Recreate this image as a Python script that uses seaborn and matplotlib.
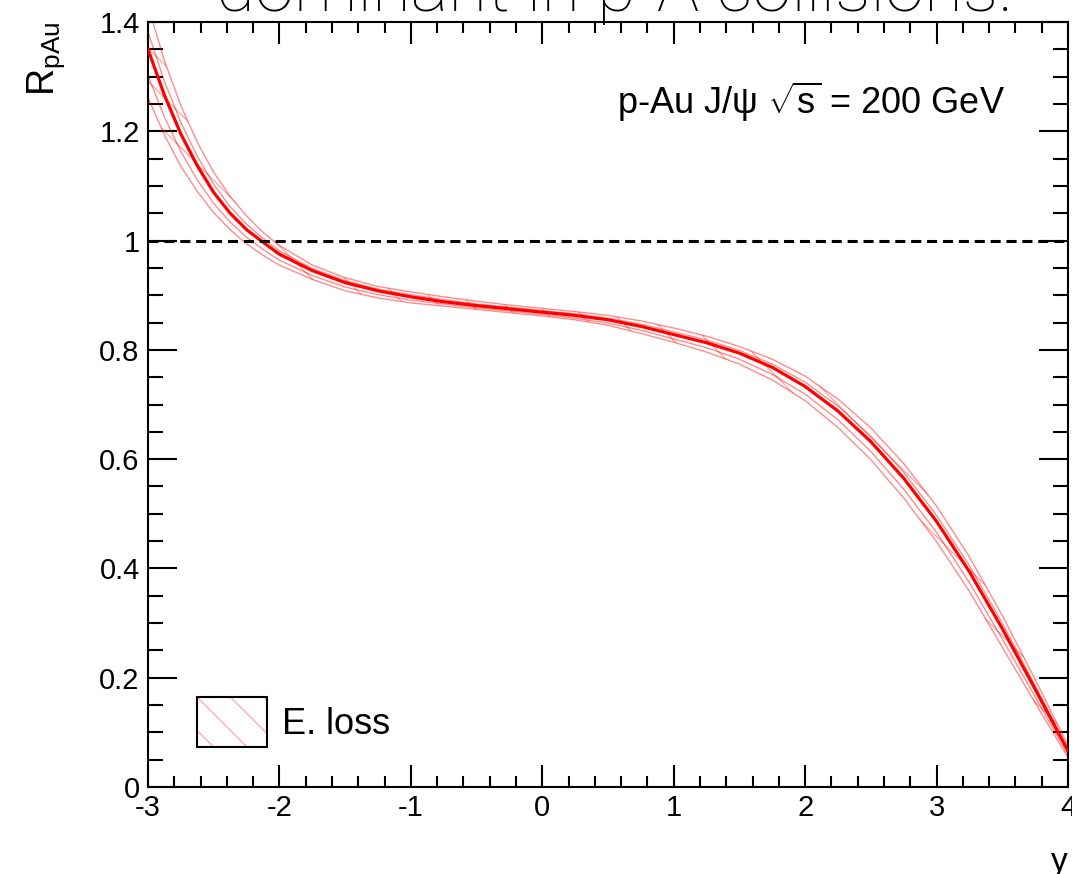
import matplotlib
matplotlib.use("Agg")
import matplotlib.pyplot as plt
import seaborn as sns
import pandas as pd
from matplotlib.ticker import MultipleLocator, FuncFormatter
from matplotlib.patches import Patch
from matplotlib.legend_handler import HandlerTuple

# ---------------- data ----------------
rapidity = [-3.000, -2.875, -2.750, -2.625, -2.500, -2.375, -2.250, -2.125, -2.000,
            -1.75, -1.50, -1.25, -1.00, -0.75, -0.50, -0.25, 0.00, 0.25, 0.50, 0.75,
            1.00, 1.25, 1.50, 1.75, 2.00, 2.25, 2.50, 2.75, 3.00, 3.25, 3.50, 3.75, 4.00]

r_central = [1.350, 1.266, 1.195, 1.137, 1.088, 1.050, 1.020, 0.997, 0.975,
             0.945, 0.923, 0.908, 0.897, 0.888, 0.881, 0.875, 0.869, 0.863, 0.855, 0.843,
             0.828, 0.813, 0.794, 0.768, 0.733, 0.688, 0.632, 0.565, 0.486, 0.394, 0.290, 0.179, 0.066]

r_upper = [1.430, 1.329, 1.247, 1.180, 1.125, 1.081, 1.045, 1.015, 0.991,
           0.955, 0.932, 0.916, 0.906, 0.897, 0.889, 0.882, 0.876, 0.870, 0.863, 0.853,
           0.840, 0.825, 0.806, 0.783, 0.752, 0.710, 0.657, 0.592, 0.514, 0.421, 0.314, 0.197, 0.076]

r_lower = [1.262, 1.193, 1.136, 1.090, 1.051, 1.020, 0.994, 0.973, 0.955,
           0.929, 0.908, 0.895, 0.886, 0.880, 0.874, 0.868, 0.862, 0.855, 0.845, 0.830,
           0.814, 0.796, 0.774, 0.745, 0.707, 0.658, 0.599, 0.529, 0.449, 0.358, 0.256, 0.154, 0.054]

r_inner_hi = [1.382, 1.291, 1.216, 1.154, 1.103, 1.062, 1.030, 1.004, 0.981,
              0.949, 0.927, 0.911, 0.901, 0.892, 0.884, 0.878, 0.872, 0.866, 0.858, 0.847,
              0.833, 0.818, 0.799, 0.774, 0.741, 0.697, 0.642, 0.576, 0.497, 0.405, 0.300, 0.186, 0.070]

r_inner_lo = [1.302, 1.226, 1.163, 1.111, 1.068, 1.034, 1.006, 0.984, 0.964,
              0.936, 0.915, 0.901, 0.891, 0.884, 0.877, 0.871, 0.865, 0.858, 0.849, 0.836,
              0.820, 0.804, 0.783, 0.755, 0.719, 0.672, 0.614, 0.545, 0.466, 0.374, 0.271, 0.165, 0.059]

x_ticks = [-3, -2, -1, 0, 1, 2, 3, 4]
y_ticks = [0, 0.2, 0.4, 0.6, 0.8, 1.0, 1.2, 1.4]

df = pd.DataFrame({"y": rapidity, "central": r_central, "upper": r_upper,
                   "lower": r_lower, "inner_hi": r_inner_hi, "inner_lo": r_inner_lo})

# ---------------- style ----------------
sns.set_theme(style="ticks")
plt.rcParams.update({
    "font.family": ["Liberation Sans", "DejaVu Sans"],
    "mathtext.fontset": "custom",
    "mathtext.rm": "Liberation Sans",
    "mathtext.it": "Liberation Sans:italic",
    "mathtext.bf": "Liberation Sans:bold",
    "axes.unicode_minus": False,
    "hatch.linewidth": 0.8,
    "axes.edgecolor": "black",
    "text.color": "black",
    "xtick.color": "black",
    "ytick.color": "black",
    "axes.labelcolor": "black",
})

fig = plt.figure(figsize=(10.72, 8.74), dpi=100)
ax = fig.add_axes([148 / 1072, 1 - 787 / 874, 920 / 1072, 765 / 874])

band_col = (1.0, 0.0, 0.0, 0.45)
hatch_col = (1.0, 0.0, 0.0, 0.4)

# hatched band (polygon between lower and upper curves)
poly_x = list(df["y"]) + list(df["y"][::-1])
poly_y = list(df["lower"]) + list(df["upper"][::-1])
ax.fill(poly_x, poly_y, facecolor="none", edgecolor=hatch_col, hatch="\\",
        linewidth=0, zorder=1)

for col in ["upper", "lower", "inner_hi", "inner_lo"]:
    sns.lineplot(data=df, x="y", y=col, ax=ax, color=band_col, linewidth=1.0,
                 zorder=2)
sns.lineplot(data=df, x="y", y="central", ax=ax, color="red", linewidth=2.3,
             zorder=3)

ax.axhline(1.0, color="black", linewidth=2.2, linestyle=(0, (3.3, 1.9)), zorder=4)

ax.set_xlim(-3, 4)
ax.set_ylim(0, 1.4)

# ticks
ax.set_xticks(x_ticks)
ax.set_yticks(y_ticks)
ax.xaxis.set_minor_locator(MultipleLocator(0.2))
ax.yaxis.set_minor_locator(MultipleLocator(0.05))
fmt = FuncFormatter(lambda v, p: f"{v:g}")
ax.xaxis.set_major_formatter(fmt)
ax.yaxis.set_major_formatter(fmt)
ax.tick_params(axis="both", which="both", direction="in", top=True, right=True,
               width=1.5, labelsize=21)
ax.tick_params(axis="x", which="major", length=16, pad=5)
ax.tick_params(axis="x", which="minor", length=8)
ax.tick_params(axis="y", which="major", length=21, pad=6)
ax.tick_params(axis="y", which="minor", length=11)
for s in ax.spines.values():
    s.set_linewidth(1.5)
    s.set_color("black")

# axis labels
ax.set_ylabel(r"R$_{\mathregular{pAu}}$", fontsize=27, loc="top")
ax.yaxis.set_label_coords(-0.088, 1.0)
ax.set_xlabel("y", fontsize=24, loc="right")
ax.xaxis.set_label_coords(1.0, -0.078)

# annotation
ax.text(0.932, 0.895, r"p-Au J/ψ $\sqrt{\mathrm{s}}$ = 200 GeV", transform=ax.transAxes,
        ha="right", va="center", fontsize=26)

# legend
h_hatch = Patch(facecolor="none", edgecolor=hatch_col, hatch="\\", linewidth=0)
h_frame = Patch(facecolor="none", edgecolor="black", linewidth=1.5)
ax.legend([(h_hatch, h_frame)], ["E. loss"],
          handler_map={tuple: HandlerTuple(ndivide=1, pad=0)},
          loc="lower left", bbox_to_anchor=((197 - 148) / 920, (787 - 747) / 765),
          frameon=False, borderpad=0, borderaxespad=0, fontsize=26,
          handlelength=1.94, handleheight=1.75, handletextpad=0.42)

# cut-off heading at the top of the slide
fig.text(615 / 1072, 1 - 11 / 874, "dominant in p-A collisions.", ha="center",
         va="baseline", fontsize=51, family=["Roboto", "Liberation Sans"], weight="light")

fig.savefig("out.png", dpi=100)
